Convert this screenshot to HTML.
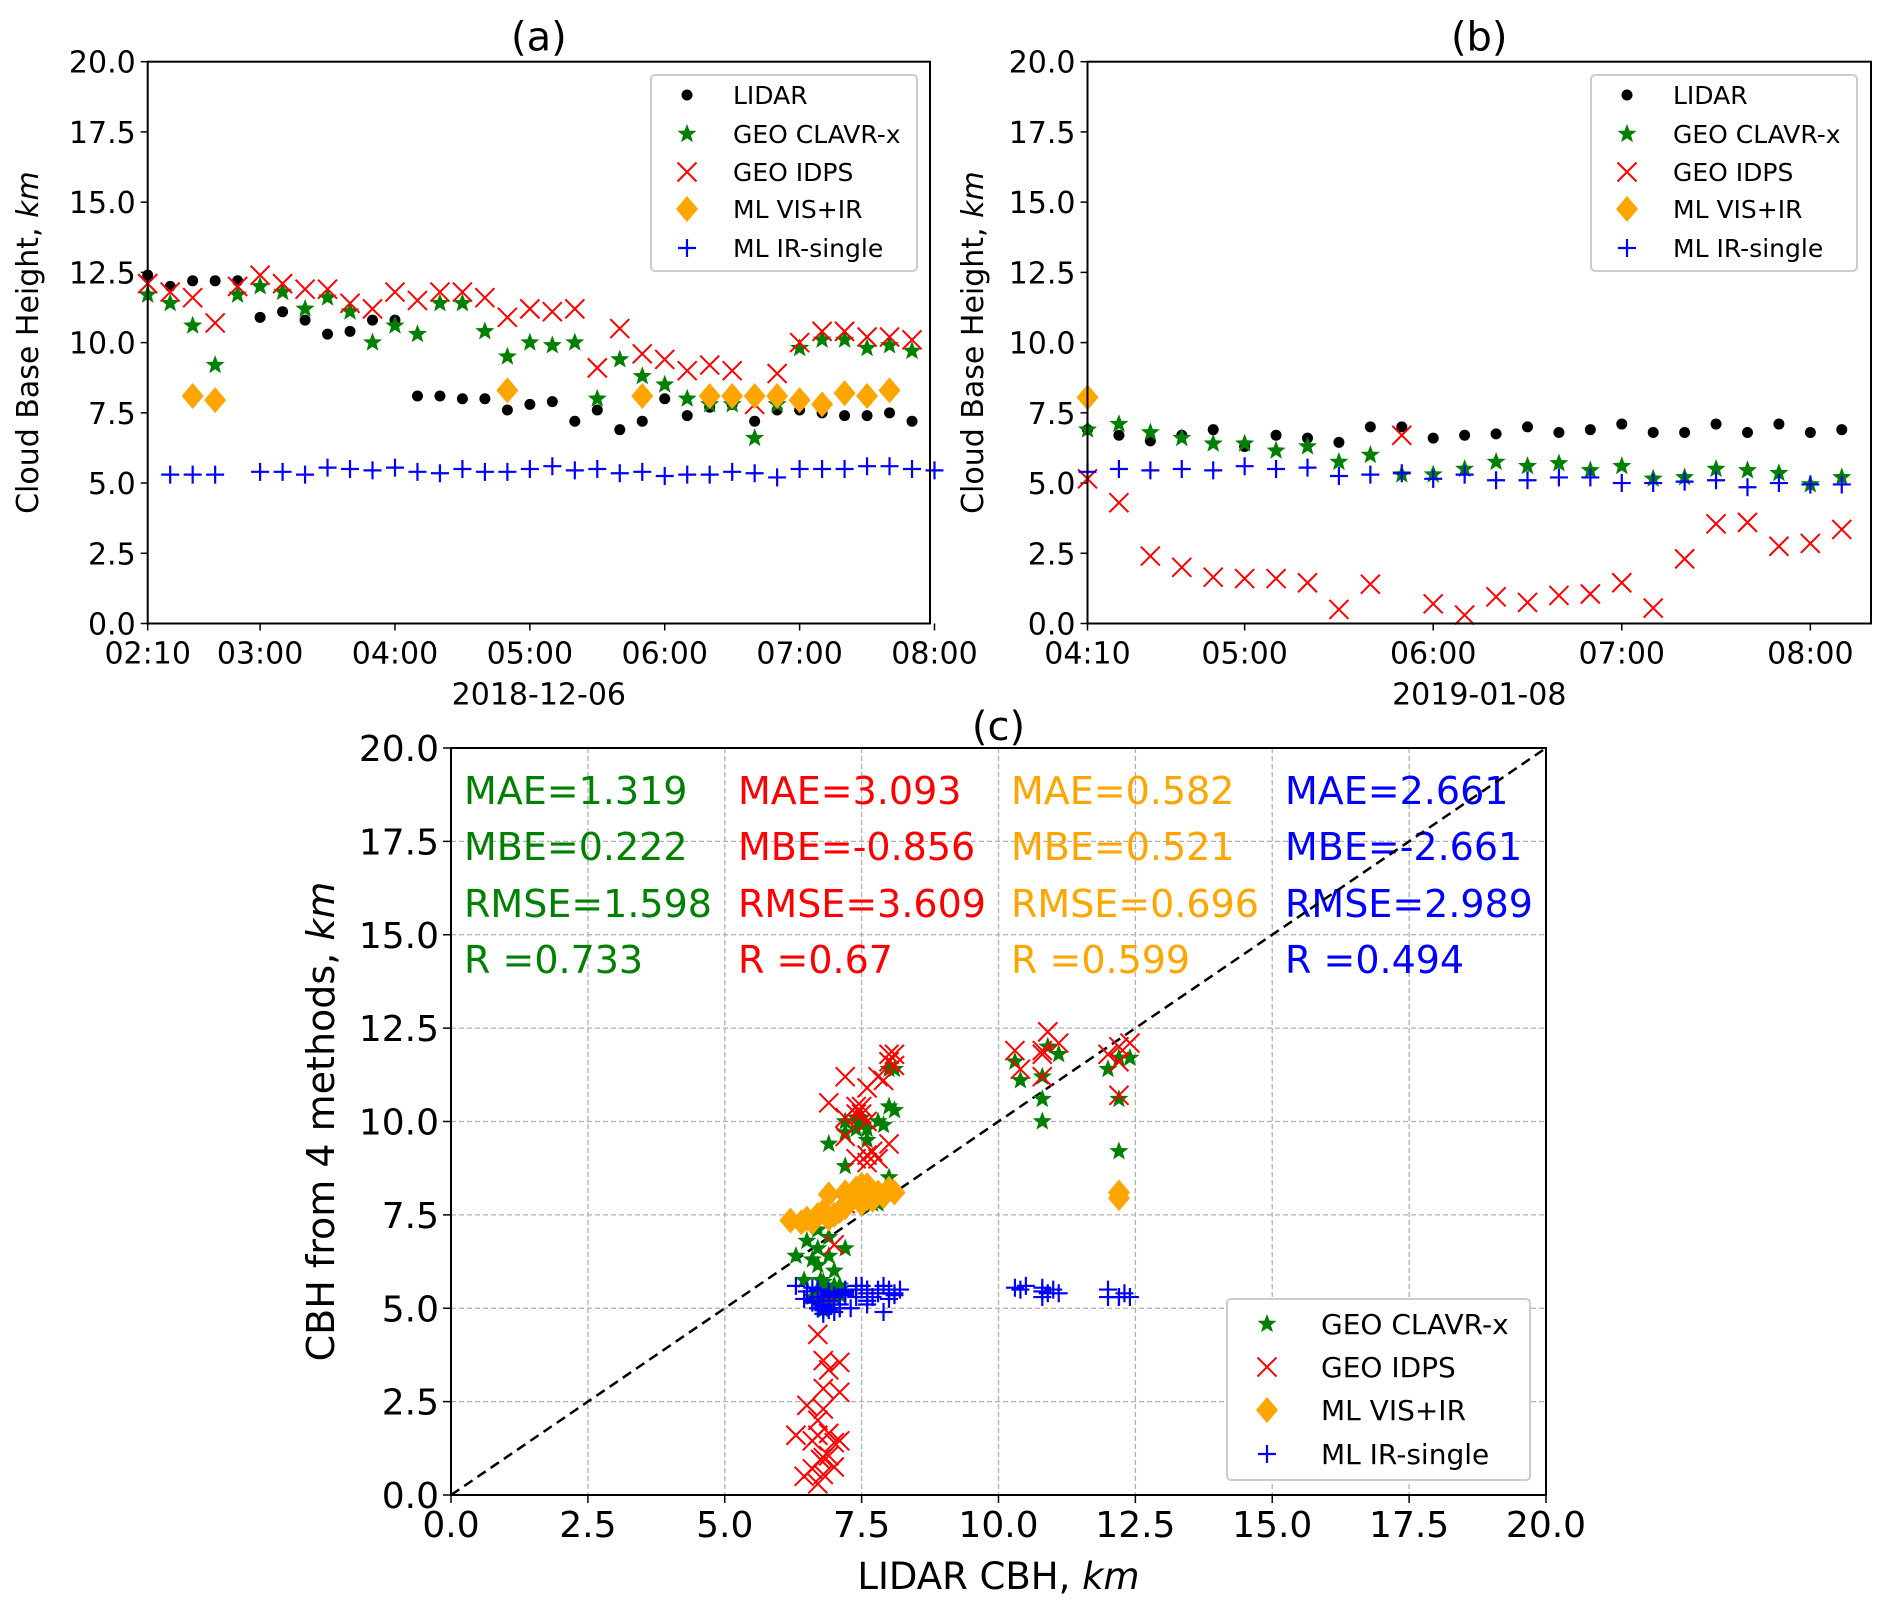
<!DOCTYPE html>
<html><head><meta charset="utf-8"><style>
body{margin:0;background:#fff}
svg{display:block;font-family:"DejaVu Sans","Liberation Sans",sans-serif}
</style></head><body>
<svg id="fig" xmlns="http://www.w3.org/2000/svg" width="1892" height="1609" viewBox="0 0 1892 1609">
<rect width="1892" height="1609" fill="#fff"/>
<g id="pa"></g>
<g id="pb"></g>
<g id="pc"></g>
</svg>
<script>
// Panel (a): minutes after 02:10, 10-min steps
const aLidar=[12.4,12.0,12.2,12.2,12.2,10.9,11.1,10.8,10.3,10.4,10.8,10.8,8.1,8.1,8.0,8.0,7.6,7.8,7.9,7.2,7.6,6.9,7.2,8.0,7.4,7.7,7.8,7.2,7.6,7.6,7.5,7.4,7.4,7.5,7.2,null];
const aClavr=[11.7,11.4,10.6,9.2,11.7,12.0,11.8,11.2,11.6,11.1,10.0,10.6,10.3,11.4,11.4,10.4,9.5,10.0,9.9,10.0,8.0,9.4,8.8,8.5,8.0,7.8,7.8,6.6,7.8,9.8,10.1,10.1,9.8,9.9,9.7,null];
const aIdps=[12.1,11.8,11.6,10.7,12.0,12.4,12.1,11.9,11.9,11.4,11.2,11.8,11.5,11.8,11.8,11.6,10.9,11.2,11.1,11.2,9.1,10.5,9.6,9.4,9.0,9.2,9.0,7.8,8.9,10.0,10.4,10.4,10.2,10.2,10.1,null];
const aVisir=[null,null,8.1,7.95,null,null,null,null,null,null,null,null,null,null,null,null,8.3,null,null,null,null,null,8.1,null,null,8.1,8.1,8.1,8.1,7.95,7.8,8.2,8.1,8.3,null,null];
const aIrs=[null,5.3,5.3,5.3,null,5.4,5.4,5.3,5.55,5.5,5.45,5.55,5.4,5.35,5.5,5.4,5.4,5.5,5.6,5.45,5.5,5.35,5.4,5.25,5.3,5.3,5.4,5.35,5.2,5.5,5.5,5.5,5.6,5.6,5.5,5.45];
const aTicks=["02:10","03:00","04:00","05:00","06:00","07:00","08:00"];
const aTickMin=[0,50,110,170,230,290,350];
// Panel (b): minutes after 04:10
const bLidar=[6.9,6.7,6.5,6.7,6.9,6.3,6.7,6.6,6.45,7.0,7.0,6.6,6.7,6.75,7.0,6.8,6.9,7.1,6.8,6.8,7.1,6.8,7.1,6.8,6.9];
const bClavr=[6.9,7.1,6.8,6.6,6.4,6.4,6.15,6.3,5.75,6.0,5.3,5.3,5.5,5.75,5.6,5.7,5.45,5.6,5.15,5.2,5.5,5.45,5.35,4.95,5.2];
const bIdps=[5.15,4.3,2.4,2.0,1.65,1.6,1.6,1.45,0.5,1.4,6.7,0.7,0.3,0.95,0.75,1.0,1.05,1.45,0.55,2.3,3.55,3.6,2.75,2.85,3.35];
const bVisir=[8.05,null,null,null,null,null,null,null,null,null,null,null,null,null,null,null,null,null,null,null,null,null,null,null,null];
const bIrs=[5.4,5.5,5.45,5.5,5.45,5.6,5.5,5.55,5.25,5.3,5.35,5.15,5.3,5.1,5.1,5.2,5.2,5.0,5.0,5.05,5.1,4.85,5.0,4.95,4.95];
const bTicks=["04:10","05:00","06:00","07:00","08:00"];
const bTickMin=[0,50,110,170,230];
// Panel (c) extra samples only shown in the scatter
const cExtraVisirX=[6.2,6.4,6.5,6.6,6.7,6.8,6.9,7.0,7.1,7.2,7.3,7.4,7.5,7.6,7.7,7.9,8.0,8.1];
const cExtraVisirY=[7.35,7.3,7.4,7.3,7.5,7.6,7.4,7.5,7.6,7.7,8.0,8.2,8.0,8.1,7.9,8.0,8.2,8.1];
const cExtraIrsX=[6.6,6.7,7.0,7.3,7.6,7.9,8.2,10.5,11.0,12.3,12.4,12.0];
const cExtraIrsY=[5.2,5.0,4.9,5.0,5.1,4.9,5.5,5.6,5.5,5.4,5.3,5.5];
const yTicks=[0,2.5,5,7.5,10,12.5,15,17.5,20];
const metricsText=[["MAE=1.319","MBE=0.222","RMSE=1.598","R =0.733"],["MAE=3.093","MBE=-0.856","RMSE=3.609","R =0.67"],["MAE=0.582","MBE=0.521","RMSE=0.696","R =0.599"],["MAE=2.661","MBE=-2.661","RMSE=2.989","R =0.494"]];

const NS="http://www.w3.org/2000/svg";
function mk(parent,tag,attrs,text){const e=document.createElementNS(NS,tag);for(const k in attrs)e.setAttribute(k,attrs[k]);if(text!==undefined)e.textContent=text;parent.appendChild(e);return e;}
const COL={lidar:"#000",clavr:"#008000",idps:"#ff0000",visir:"#ffa500",irs:"#0000ff"};
function marker(g,type,x,y,s){
  let e;
  if(type==="lidar"){e=mk(g,"circle",{cx:x,cy:y,r:5.5*s,fill:"#000"});}
  else if(type==="clavr"){let p=[];for(let i=0;i<10;i++){const r=(i%2?4.2:10)*s;const a=-Math.PI/2+i*Math.PI/5;p.push((x+r*Math.cos(a)).toFixed(1)+","+(y+r*Math.sin(a)).toFixed(1));}e=mk(g,"polygon",{points:p.join(" "),fill:COL.clavr});}
  else if(type==="idps"){const d=9.5*s;e=mk(g,"path",{d:`M${x-d},${y-d}L${x+d},${y+d}M${x-d},${y+d}L${x+d},${y-d}`,stroke:COL.idps,"stroke-width":2,fill:"none"});}
  else if(type==="visir"){const w=11*s,h=13*s;e=mk(g,"polygon",{points:`${x},${y-h} ${x+w},${y} ${x},${y+h} ${x-w},${y}`,fill:COL.visir});}
  else {const d=9*s;e=mk(g,"path",{d:`M${x-d},${y}L${x+d},${y}M${x},${y-d}L${x},${y+d}`,stroke:COL.irs,"stroke-width":2.2,fill:"none"});}
  
  
  return e;
}
function tsPanel(gid,L,R,T,B,xmax,ticks,tickMin,series,title,date,legX,yLabX){
  const g=document.getElementById(gid);
  const sx=m=>L+(m/xmax)*(R-L), sy=v=>B-(v/20)*(B-T);
  yTicks.forEach(v=>{mk(g,"line",{x1:L-7,x2:L,y1:sy(v),y2:sy(v),stroke:"#000","stroke-width":1.5});
    const t=mk(g,"text",{x:L-12,y:sy(v)+11,"text-anchor":"end","font-size":30,fill:"#000"},v.toFixed(1));
    });
  ticks.forEach((lab,i)=>{const x=sx(tickMin[i]);mk(g,"line",{x1:x,x2:x,y1:B,y2:B+7,stroke:"#000","stroke-width":1.5});
    const t=mk(g,"text",{x:x,y:B+40,"text-anchor":"middle","font-size":30,fill:"#000"},lab);
    });
  const order=["lidar","clavr","idps","visir","irs"];
  order.forEach(k=>{series[k].forEach((v,i)=>{if(v!==null)marker(g,k,sx(i*10),sy(v),1);});});
  const fr=mk(g,"rect",{x:L,y:T,width:R-L,height:B-T,fill:"none",stroke:"#000","stroke-width":2});
  
  const tt=mk(g,"text",{x:(L+R)/2,y:T-11,"text-anchor":"middle","font-size":40},title);
  
  const dt=mk(g,"text",{x:(L+R)/2,y:B+81,"text-anchor":"middle","font-size":30},date);
  
  const yl=mk(g,"text",{x:0,y:0,"text-anchor":"middle","font-size":30,transform:`translate(${yLabX},${(T+B)/2}) rotate(-90)`});
  
  yl.innerHTML='Cloud Base Height, <tspan font-style="italic">km</tspan>';
  const lg=mk(g,"g",{});
  
  mk(lg,"rect",{x:legX,y:75,width:266,height:196,rx:4,fill:"#fff",stroke:"#ccc","stroke-width":2});
  const names=["LIDAR","GEO CLAVR-x","GEO IDPS","ML VIS+IR","ML IR-single"];
  const ly=[95,134,172,209,248];
  order.forEach((k,i)=>{marker(lg,k,legX+36,ly[i],1);const t=mk(lg,"text",{x:legX+82,y:ly[i]+9,"font-size":25},names[i]);
    });
}
tsPanel("pa",147.7,930,61.7,623.5,348,aTicks,aTickMin,{lidar:aLidar,clavr:aClavr,idps:aIdps,visir:aVisir,irs:aIrs},"(a)","2018-12-06",651,38);
tsPanel("pb",1087.5,1871,61.7,623.5,249.3,bTicks,bTickMin,{lidar:bLidar,clavr:bClavr,idps:bIdps,visir:bVisir,irs:bIrs},"(b)","2019-01-08",1591,983);

(function(){
  const g=document.getElementById("pc");
  const L=451,R=1546,T=748,B=1495;
  const sx=v=>L+(v/20)*(R-L), sy=v=>B-(v/20)*(B-T);
  yTicks.forEach(v=>{
    if(v>0&&v<20){mk(g,"line",{x1:L,x2:R,y1:sy(v),y2:sy(v),stroke:"#b0b0b0","stroke-width":1.3,"stroke-dasharray":"5,3"});
      mk(g,"line",{x1:sx(v),x2:sx(v),y1:T,y2:B,stroke:"#b0b0b0","stroke-width":1.3,"stroke-dasharray":"5,3"});}
    mk(g,"line",{x1:L-8,x2:L,y1:sy(v),y2:sy(v),stroke:"#000","stroke-width":1.5});
    mk(g,"line",{x1:sx(v),x2:sx(v),y1:B,y2:B+8,stroke:"#000","stroke-width":1.5});
    const t1=mk(g,"text",{x:L-12,y:sy(v)+13,"text-anchor":"end","font-size":36},v.toFixed(1));
    
    const t2=mk(g,"text",{x:sx(v),y:B+42,"text-anchor":"middle","font-size":36},v.toFixed(1));
    
  });
  const cols=[COL.clavr,COL.idps,COL.visir,COL.irs];
  const mx=[464,738,1011,1285],my=[804,860,917,973];
  metricsText.forEach((col,i)=>col.forEach((s,j)=>{const t=mk(g,"text",{x:mx[i],y:my[j],"font-size":38,fill:cols[i]},s);
    }));
  const dl=mk(g,"line",{x1:sx(0),y1:sy(0),x2:sx(20),y2:sy(20),stroke:"#000","stroke-width":2.5,"stroke-dasharray":"10,6"});
  
  const pairs=[[aLidar,{clavr:aClavr,idps:aIdps,visir:aVisir,irs:aIrs}],[bLidar,{clavr:bClavr,idps:bIdps,visir:bVisir,irs:bIrs}]];
  ["clavr","idps","visir","irs"].forEach(k=>{
    pairs.forEach(([lid,s])=>{s[k].forEach((v,i)=>{if(v!==null&&lid[i]!==null)marker(g,k,sx(lid[i]),sy(v),1);});});
    if(k==="visir")cExtraVisirX.forEach((x,i)=>marker(g,k,sx(x),sy(cExtraVisirY[i]),1));
    if(k==="irs")cExtraIrsX.forEach((x,i)=>marker(g,k,sx(x),sy(cExtraIrsY[i]),1));
  });
  const fr=mk(g,"rect",{x:L,y:T,width:R-L,height:B-T,fill:"none",stroke:"#000","stroke-width":2});
  
  const tt=mk(g,"text",{x:(L+R)/2,y:T-8,"text-anchor":"middle","font-size":40},"(c)");
  
  const xl=mk(g,"text",{x:(L+R)/2,y:1589,"text-anchor":"middle","font-size":37});
  
  xl.innerHTML='LIDAR CBH, <tspan font-style="italic">km</tspan>';
  const yl=mk(g,"text",{x:0,y:0,"text-anchor":"middle","font-size":38,transform:`translate(334,${(T+B)/2}) rotate(-90)`});
  
  yl.innerHTML='CBH from 4 methods, <tspan font-style="italic">km</tspan>';
  const lg=mk(g,"g",{});
  
  mk(lg,"rect",{x:1227,y:1299,width:303,height:181,rx:4,fill:"#fff",stroke:"#ccc","stroke-width":2});
  const names=["GEO CLAVR-x","GEO IDPS","ML VIS+IR","ML IR-single"];
  const ly=[1324,1367,1410,1454];
  ["clavr","idps","visir","irs"].forEach((k,i)=>{marker(lg,k,1267,ly[i],1);const t=mk(lg,"text",{x:1321,y:ly[i]+10,"font-size":28},names[i]);
    });
})();
</script>
</body></html>
